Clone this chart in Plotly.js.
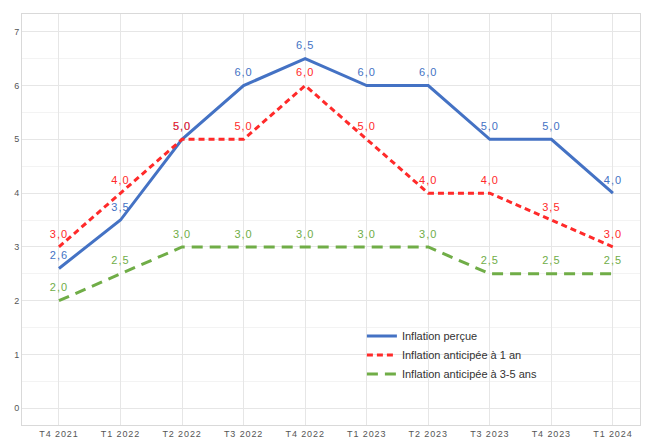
<!DOCTYPE html>
<html><head><meta charset="utf-8">
<script src="https://cdn.plot.ly/plotly-3.0.1.min.js"></script>
<style>html,body{margin:0;padding:0;background:#fff}#c{width:646px;height:439px}
#c .textpoint text{letter-spacing:1px}
#c .xtick text{letter-spacing:0.9px}
</style>
</head><body><div id="c"></div>
<script>
var categories = ["T4 2021","T1 2022","T2 2022","T3 2022","T4 2022","T1 2023","T2 2023","T3 2023","T4 2023","T1 2024"];
var percue = [2.6,3.5,5.0,6.0,6.5,6.0,6.0,5.0,5.0,4.0];
var anticipee1 = [3.0,4.0,5.0,5.0,6.0,5.0,4.0,4.0,3.5,3.0];
var anticipee35 = [2.0,2.5,3.0,3.0,3.0,3.0,3.0,2.5,2.5,2.5];
var names = ["Inflation perçue","Inflation anticipée à 1 an","Inflation anticipée à 3-5 ans"];
function fmt(a){return a.map(function(v){return v.toFixed(1).replace('.',',');});}
var xi = categories.map(function(_,i){return i;});
var font = "Liberation Sans, Arial, sans-serif";
function tr(y,name,color,dash){
 return {x:xi,y:y,name:name,mode:'lines+markers+text',text:fmt(y),textposition:'top center',
  marker:{size:9,color:'rgba(0,0,0,0)',line:{width:0,color:'rgba(0,0,0,0)'}},
  textfont:{color:color,size:11,family:font},line:{color:color,width:3,dash:dash},cliponaxis:false};
}
var traces = [
 tr(percue,names[0],'#4472C4','solid'),
 tr(anticipee1,names[1],'#FF2A2A','6px,4px'),
 tr(anticipee35,names[2],'#70AD47','11px,7px')
];
var layout = {
 width:646,height:439,margin:{l:22,r:6,t:14,b:14},
 paper_bgcolor:'#fff',plot_bgcolor:'#fff',
 font:{family:font,color:'#555',size:9},
 showlegend:true,
 legend:{x:0.55,y:0.252,xanchor:'left',yanchor:'top',font:{size:11,color:'#333',family:font},bgcolor:'rgba(0,0,0,0)',tracegroupgap:0,itemwidth:30},
 xaxis:{range:[-0.6,9.44],tickmode:'array',tickvals:xi,ticktext:categories,showgrid:true,gridcolor:'#e6e6e6',
   showline:true,linecolor:'#d9d9d9',linewidth:1,mirror:true,zeroline:false,ticks:'',tickfont:{size:9,color:'#555'},fixedrange:true},
 yaxis:{range:[-0.31,7.33],tickvals:[0,1,2,3,4,5,6,7],showgrid:true,gridcolor:'#e6e6e6',
   minor:{dtick:0.5,showgrid:true,gridcolor:'#f3f3f3'},
   showline:true,linecolor:'#d9d9d9',linewidth:1,mirror:true,zeroline:false,ticks:'',tickfont:{size:9,color:'#555'},fixedrange:true}
};
Plotly.newPlot('c',traces,layout,{staticPlot:true,displayModeBar:false});
</script></body></html>
